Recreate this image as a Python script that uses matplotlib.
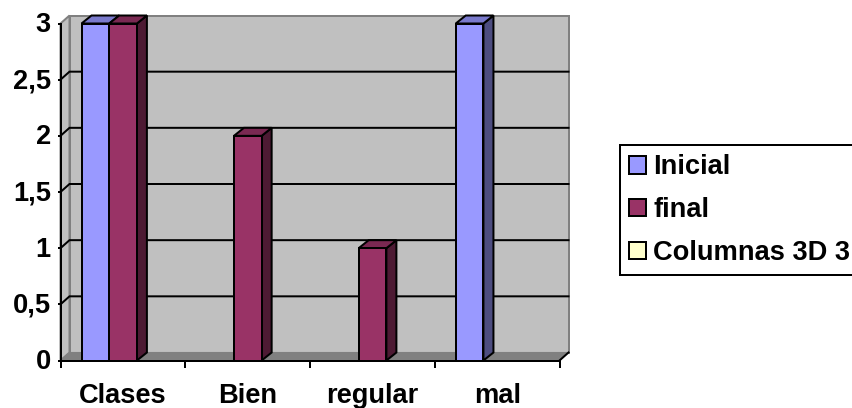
import matplotlib
matplotlib.use("Agg")
import matplotlib.pyplot as plt
from matplotlib.patches import Polygon, Rectangle, Patch
from matplotlib.transforms import ScaledTranslation

plt.rcParams['font.family'] = ['Liberation Sans', 'DejaVu Sans']
plt.rcParams['font.weight'] = 'bold'

categories = ["Clases", "Bien", "regular", "mal"]
inicial = [3, 0, 0, 3]
final = [3, 2, 1, 0]
columnas = [0, 0, 0, 0]
y_ticks = [0, 0.5, 1, 1.5, 2, 2.5, 3]
y_labels = ["0", "0,5", "1", "1,5", "2", "2,5", "3"]
series = [
    ("Inicial", inicial, "#9999FF", "#4D4D80", "#7A7ACC"),
    ("final", final, "#993366", "#4D1A33", "#7A2952"),
    ("Columnas 3D 3", columnas, "#FFFFCC", "#808066", "#CCCCA3"),
]

W, H = 852, 408
fig = plt.figure(figsize=(W / 100, H / 100), dpi=100)
L, R, B, T = 60.5, 559.5, 360.5, 23.5
ax = fig.add_axes([L / W, 1 - B / H, (R - L) / W, (B - T) / H])
ax.set_facecolor("none")
ax.set_xlim(0, 4)
ax.set_ylim(0, 3)
xpp = 4 / (R - L)
ypp = 3 / (B - T)
wdx, wdy = 9 * xpp, 8 * ypp      # wall depth
bdx, bdy = 10 * xpp, 8 * ypp     # bar depth
PX = 2 * 0.72
GREY = "#808080"
WALL = "#C0C0C0"
FS = 19.6

# walls and floor
ax.add_patch(Polygon([(0, 0), (wdx, wdy), (wdx, 3 + wdy), (0, 3)], closed=True, fc=WALL, ec=GREY,
                     lw=PX, zorder=1, clip_on=False))
ax.add_patch(Rectangle((wdx, wdy), 4, 3, fc=WALL, ec=GREY, lw=PX, zorder=1, clip_on=False))
ax.add_patch(Polygon([(0, 0), (4, 0), (4 + wdx, wdy), (wdx, wdy)], closed=True, fc=GREY, ec=GREY,
                     lw=0.8, zorder=2, clip_on=False))

# gridlines on the back wall with the slanted step on the side wall
for v in y_ticks[1:-1]:
    ax.plot([0, wdx, 4 + wdx], [v, v + wdy, v + wdy], color="black", lw=PX, zorder=3,
            clip_on=False, solid_joinstyle="miter")
ax.plot([4, 4 + wdx], [0, wdy], color="black", lw=PX, zorder=3, clip_on=False)

# bars
bw = 27.7 * xpp
gap = 21 * xpp
for i, (name, vals, c, side, top) in enumerate(series):
    for j, v in enumerate(vals):
        if v <= 0:
            continue
        x0 = j + gap + i * bw
        x1 = x0 + bw
        z = 4 + j * 0.1 + i * 0.01
        ax.bar(x0, v, width=bw, align="edge", color=c, edgecolor="black", lw=PX, zorder=z + 0.002,
               clip_on=False)
        ax.add_patch(Polygon([(x1, 0), (x1 + bdx, bdy), (x1 + bdx, v + bdy), (x1, v)], closed=True,
                             fc=side, ec="black", lw=PX, zorder=z, clip_on=False, joinstyle="miter"))
        ax.add_patch(Polygon([(x0, v), (x0 + bdx, v + bdy), (x1 + bdx, v + bdy), (x1, v)], closed=True,
                             fc=top, ec="black", lw=PX, zorder=z, clip_on=False, joinstyle="miter"))

# axes
for s in ("top", "right"):
    ax.spines[s].set_visible(False)
for s in ("left", "bottom"):
    ax.spines[s].set_linewidth(PX)
    ax.spines[s].set_zorder(6)
ax.set_yticks(y_ticks)
ax.set_yticklabels(y_labels, fontsize=FS, fontweight="bold")
ax.set_xticks(range(5))
ax.set_xticklabels([])
ax.set_xticks([k + 0.5 for k in range(4)], minor=True)
ax.set_xticklabels(categories, minor=True, fontsize=FS, fontweight="bold")
ax.tick_params(axis="y", length=2.5, width=PX, pad=4.5)
ax.tick_params(axis="x", which="major", length=5, width=PX)
ax.tick_params(axis="x", which="minor", length=0, pad=16.5)
shift = ScaledTranslation(0, 1.5 / 100, fig.dpi_scale_trans)
for lab in ax.get_yticklabels():
    lab.set_transform(lab.get_transform() + shift)

# legend
handles = [Patch(fc=c, ec="black", lw=PX, label=name) for name, _, c, _, _ in series]
leg = fig.legend(handles=handles, loc="upper left", bbox_to_anchor=(620 / W, 1 - 145 / H),
                 bbox_transform=fig.transFigure, fontsize=FS, frameon=True, fancybox=False,
                 edgecolor="black", facecolor="white", framealpha=1, handlelength=0.63,
                 handleheight=0.63, handletextpad=0.25, labelspacing=0.62, borderpad=0.34,
                 borderaxespad=0)
leg.get_frame().set_linewidth(PX)

fig.savefig("out.png", dpi=100)
